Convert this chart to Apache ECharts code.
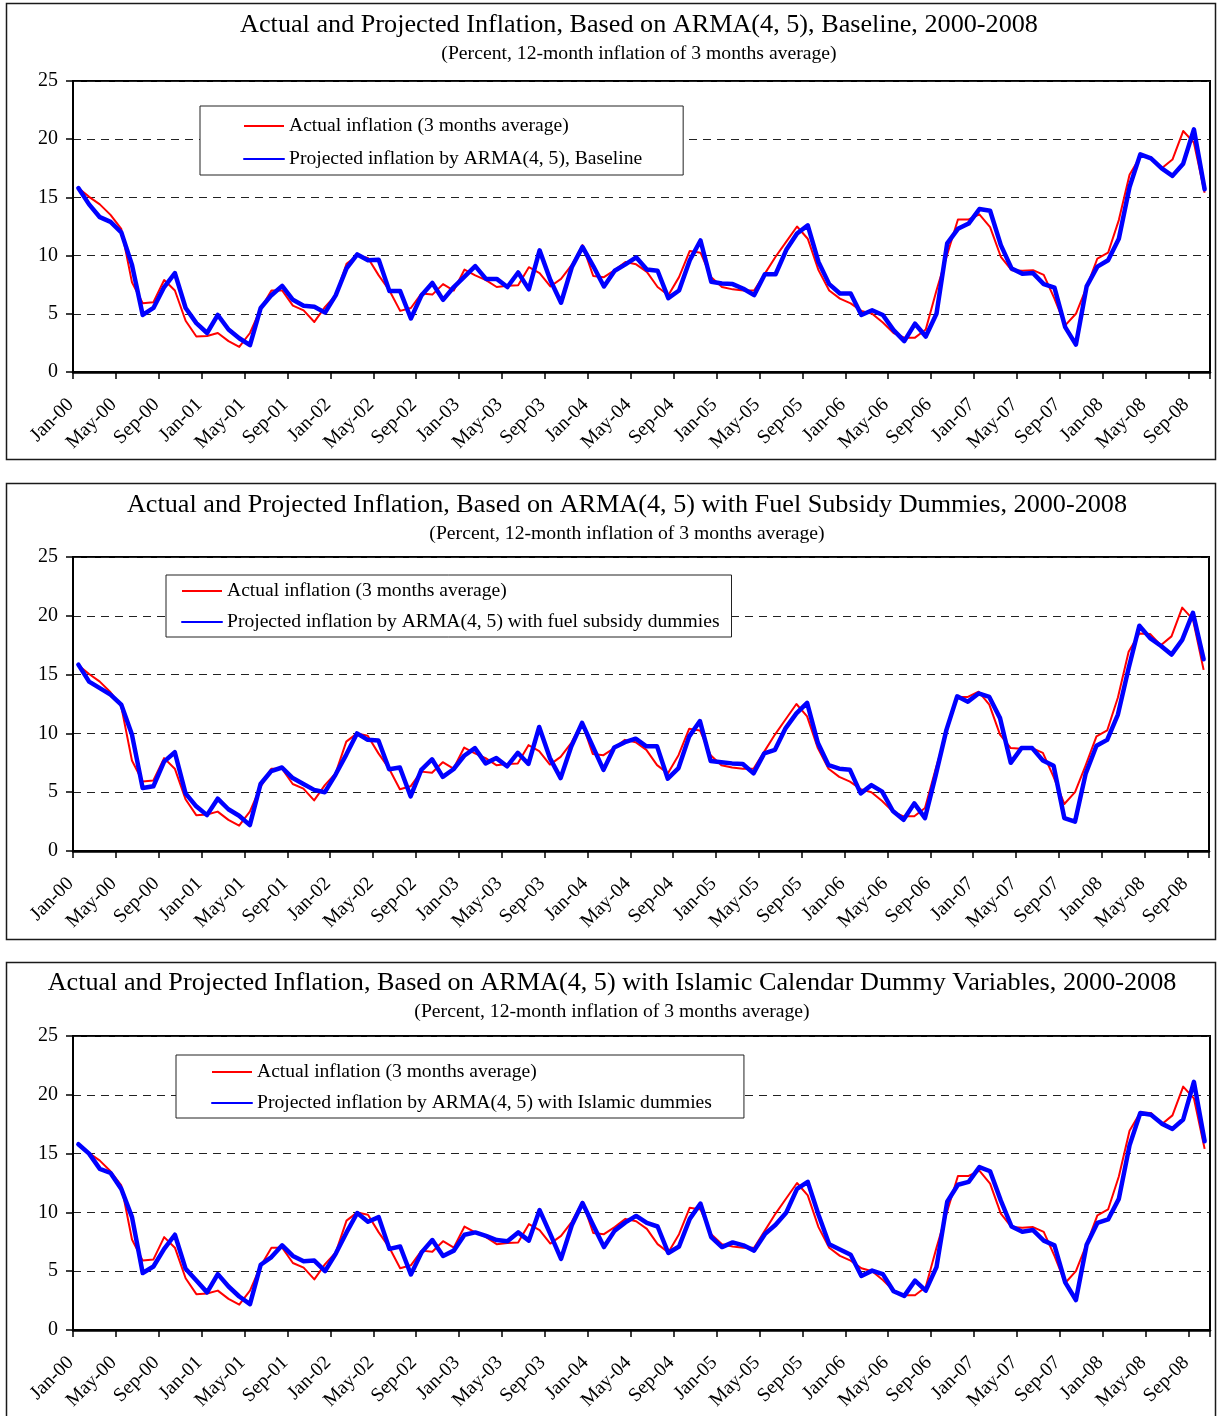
<!DOCTYPE html>
<html>
<head>
<meta charset="utf-8">
<script src="https://cdn.jsdelivr.net/npm/echarts@6/dist/echarts.min.js"></script>
<style>
  html, body { margin: 0; padding: 0; background: #fff; }
  #chart { width: 1219px; height: 1416px; }
</style>
</head>
<body>
<div id="chart"></div>
<script>
// ---------- DATA ----------
const monthNames = ['Jan','Feb','Mar','Apr','May','Jun','Jul','Aug','Sep','Oct','Nov','Dec'];
const years = ['00','01','02','03','04','05','06','07','08'];
const lastMonthIndex = 9; // Oct-08
const categories = [];
years.forEach((y, yi) => {
  monthNames.forEach((m, mi) => {
    if (yi === years.length - 1 && mi > lastMonthIndex) return;
    categories.push(m + '-' + y);
  });
});

const yTicks = [0, 5, 10, 15, 20, 25];

const titles = [
  'Actual and Projected Inflation, Based on ARMA(4, 5), Baseline, 2000-2008',
  'Actual and Projected Inflation, Based on ARMA(4, 5) with Fuel Subsidy Dummies, 2000-2008',
  'Actual and Projected Inflation, Based on ARMA(4, 5) with Islamic Calendar Dummy Variables, 2000-2008'
];
const subtitle = '(Percent, 12-month inflation of 3 months average)';

const actualName = 'Actual inflation (3 months average)';
const projNames = [
  'Projected inflation by ARMA(4, 5), Baseline',
  'Projected inflation by ARMA(4, 5) with fuel subsidy dummies',
  'Projected inflation by ARMA(4, 5) with Islamic dummies'
];

const actual = [
  15.8, 15.05, 14.4, 13.5, 12.3, 7.7, 5.9, 6.0, 7.9, 7.0,
  4.4, 3.05, 3.1, 3.35, 2.65, 2.15, 3.35, 5.45, 7.0, 7.0,
  5.7, 5.3, 4.3, 5.6, 6.6, 9.3, 10.0, 9.8, 8.3, 7.0,
  5.25, 5.5, 6.75, 6.65, 7.55, 7.0, 8.8, 8.3, 7.9, 7.3,
  7.4, 7.45, 9.0, 8.5, 7.35, 8.0, 9.2, 10.9, 8.25, 8.15,
  8.75, 9.45, 9.25, 8.6, 7.3, 6.6, 8.15, 10.4, 10.25, 8.15,
  7.3, 7.1, 7.0, 7.0, 8.45, 9.9, 11.2, 12.5, 11.45, 8.75,
  7.0, 6.3, 5.9, 5.25, 5.0, 4.25, 3.35, 2.95, 2.95, 3.65,
  7.0, 10.1, 13.1, 13.1, 13.55, 12.45, 9.9, 8.75, 8.7, 8.75,
  8.35, 6.3, 4.0, 5.0, 7.3, 9.75, 10.25, 13.05, 16.95, 18.5,
  18.45, 17.5, 18.25, 20.7, 19.7, 15.4
];

const projBaseline = [
  15.8, 14.4, 13.3, 12.9, 12.0, 9.2, 4.9, 5.5, 7.3, 8.5,
  5.5, 4.2, 3.35, 4.9, 3.65, 2.9, 2.3, 5.5, 6.6, 7.4,
  6.2, 5.7, 5.6, 5.1, 6.6, 8.9, 10.1, 9.6, 9.65, 6.95,
  6.95, 4.6, 6.6, 7.65, 6.2, 7.3, 8.2, 9.1, 8.0, 8.0,
  7.3, 8.55, 7.1, 10.45, 7.9, 5.95, 9.0, 10.75, 9.1, 7.35,
  8.7, 9.25, 9.85, 8.8, 8.7, 6.35, 7.0, 9.6, 11.3, 7.75,
  7.6, 7.55, 7.15, 6.6, 8.4, 8.4, 10.5, 11.9, 12.6, 9.45,
  7.55, 6.75, 6.75, 4.9, 5.3, 4.9, 3.6, 2.65, 4.15, 3.05,
  5.0, 11.05, 12.3, 12.75, 14.0, 13.85, 10.9, 8.9, 8.45, 8.5,
  7.55, 7.25, 3.85, 2.35, 7.35, 9.05, 9.6, 11.45, 15.9, 18.7,
  18.35, 17.5, 16.85, 17.9, 20.85, 15.7
];

const projFuel = [
  15.85, 14.4, 13.85, 13.3, 12.45, 9.9, 5.35, 5.5, 7.6, 8.4,
  4.9, 3.8, 3.05, 4.45, 3.55, 3.0, 2.2, 5.7, 6.8, 7.1,
  6.2, 5.7, 5.2, 5.0, 6.5, 8.2, 10.0, 9.45, 9.4, 6.95,
  7.1, 4.65, 6.9, 7.8, 6.3, 6.95, 8.1, 8.75, 7.45, 7.9,
  7.2, 8.35, 7.4, 10.55, 7.9, 6.2, 8.9, 10.9, 8.9, 6.9,
  8.8, 9.25, 9.55, 8.9, 8.9, 6.15, 7.05, 9.75, 11.05, 7.65,
  7.55, 7.45, 7.4, 6.6, 8.3, 8.6, 10.45, 11.7, 12.6, 9.2,
  7.3, 7.0, 6.9, 4.9, 5.6, 5.05, 3.4, 2.65, 4.05, 2.8,
  6.45, 10.3, 13.15, 12.7, 13.4, 13.1, 11.3, 7.5, 8.75, 8.75,
  7.7, 7.25, 2.8, 2.5, 6.6, 8.95, 9.45, 11.6, 15.55, 19.15,
  18.1, 17.45, 16.7, 17.95, 20.25, 16.3
];

const projIslamic = [
  15.8, 15.0, 13.7, 13.35, 12.0, 9.6, 4.85, 5.4, 6.9, 8.1,
  5.2, 4.2, 3.2, 4.75, 3.7, 2.85, 2.2, 5.55, 6.2, 7.2,
  6.3, 5.85, 5.9, 5.0, 6.5, 8.3, 9.95, 9.2, 9.6, 6.9,
  7.1, 4.72, 6.6, 7.65, 6.3, 6.75, 8.1, 8.3, 8.0, 7.65,
  7.55, 8.3, 7.6, 10.2, 8.15, 6.05, 8.9, 10.8, 8.9, 7.05,
  8.45, 9.15, 9.7, 9.1, 8.8, 6.55, 7.1, 9.45, 10.75, 7.9,
  7.05, 7.45, 7.2, 6.75, 8.15, 8.95, 10.0, 12.0, 12.6, 9.8,
  7.3, 6.85, 6.4, 4.6, 5.05, 4.75, 3.3, 2.9, 4.2, 3.35,
  5.35, 10.9, 12.35, 12.6, 13.85, 13.5, 11.0, 8.8, 8.35, 8.5,
  7.6, 7.2, 4.05, 2.55, 7.25, 9.1, 9.4, 11.15, 15.7, 18.45,
  18.3, 17.55, 17.1, 17.9, 21.1, 16.05
];

const projections = [projBaseline, projFuel, projIslamic];

// ---------- LAYOUT ----------
const FONT = '"Liberation Serif", "Times New Roman", serif';
const panels = [
  { boxTop: 3, boxBottom: 459, titleX: 639, titleTop: 10, grid: { left: 73, top: 81, width: 1137, height: 291 },
    legend: { left: 200, top: 106, padding: [10, 41, 6, 43], itemGap: 13 } },
  { boxTop: 483, boxBottom: 939, titleX: 627, titleTop: 490, grid: { left: 73, top: 557, width: 1136, height: 294 },
    legend: { left: 166, top: 575, padding: [6, 12, 5, 15], itemGap: 11 } },
  { boxTop: 962, boxBottom: 1440, titleX: 612, titleTop: 968, grid: { left: 73, top: 1036, width: 1137, height: 294 },
    legend: { left: 176, top: 1055, padding: [7, 32, 5, 35], itemGap: 11 } }
];

const option = {
  animation: false,
  backgroundColor: '#fff',
  textStyle: { fontFamily: FONT },
  title: [], grid: [], xAxis: [], yAxis: [], legend: [], series: [],
  graphic: []
};

panels.forEach((p, k) => {
  option.graphic.push({
    type: 'rect', z: -1, silent: true,
    shape: { x: 6.5, y: p.boxTop + 0.5, width: 1209, height: p.boxBottom - p.boxTop },
    style: { fill: '#fff', stroke: '#1a1a1a', lineWidth: 1.5 }
  });
  option.title.push({
    text: titles[k], subtext: subtitle,
    left: p.titleX, top: p.titleTop, textAlign: 'center', padding: 0, itemGap: 3,
    textStyle: { fontFamily: FONT, fontSize: 26.2, fontWeight: 'normal', color: '#000', lineHeight: 30 },
    subtextStyle: { fontFamily: FONT, fontSize: 19.7, color: '#000', lineHeight: 22 }
  });
  option.grid.push(Object.assign({ show: true, borderColor: '#000', borderWidth: 2, backgroundColor: 'transparent' }, p.grid));
  option.xAxis.push({
    type: 'category', gridIndex: k, data: categories, boundaryGap: true,
    axisLine: { show: true, lineStyle: { color: '#000', width: 2.5 } },
    axisTick: { show: true, interval: 3, length: 7, lineStyle: { color: '#000', width: 1.5 } },
    axisLabel: { interval: 3, rotate: 45, fontSize: 19.6, color: '#000', fontFamily: FONT,
      margin: 22, padding: [0, 11, 0, 0] },
    splitLine: { show: false }
  });
  option.yAxis.push({
    type: 'value', gridIndex: k, min: yTicks[0], max: yTicks[yTicks.length - 1], interval: 5,
    axisLine: { show: true, lineStyle: { color: '#000', width: 2 } },
    axisTick: { show: true, length: 7, lineStyle: { color: '#000', width: 1.5 } },
    axisLabel: { fontSize: 20, color: '#000', fontFamily: FONT, margin: 15 },
    splitLine: { show: true, lineStyle: { color: '#222', width: 1.2, type: [8, 6] } }
  });
  option.legend.push({
    orient: 'vertical', left: p.legend.left, top: p.legend.top, padding: p.legend.padding,
    itemGap: p.legend.itemGap, itemWidth: 40, itemHeight: 20,
    backgroundColor: '#fff', borderColor: '#222', borderWidth: 1,
    itemStyle: { opacity: 0 },
    textStyle: { fontFamily: FONT, fontSize: 19.6, color: '#000', lineHeight: 20 },
    data: [actualName, projNames[k]], selectedMode: false
  });
  option.series.push({
    name: actualName, type: 'line', xAxisIndex: k, yAxisIndex: k, data: actual,
    symbol: 'none', color: '#ff0000', lineStyle: { color: '#ff0000', width: 2, join: 'round' }, z: 3
  });
  option.series.push({
    name: projNames[k], type: 'line', xAxisIndex: k, yAxisIndex: k, data: projections[k],
    symbol: 'none', color: '#0000ff', lineStyle: { color: '#0000ff', width: 4.5, join: 'round', cap: 'round' }, z: 4
  });
});

const chart = echarts.init(document.getElementById('chart'), null, { renderer: 'canvas' });
chart.setOption(option);
</script>
</body>
</html>
